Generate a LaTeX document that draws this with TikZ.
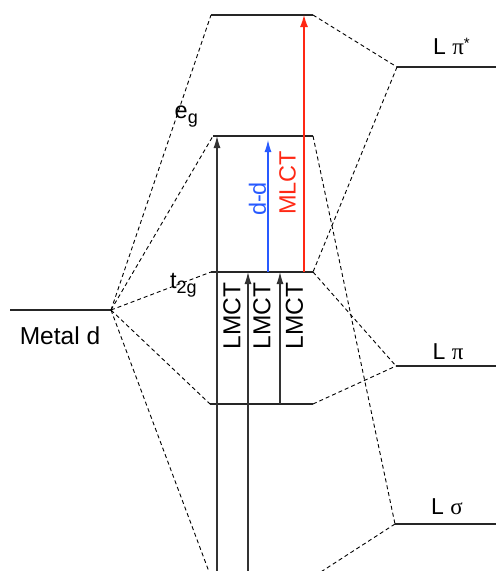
\documentclass[tikz,border=0pt]{standalone}
\usepackage{fontspec}
\setmainfont{Liberation Sans}
\newfontfamily\grk{Liberation Serif}
\usetikzlibrary{arrows.meta}
\definecolor{ddblue}{RGB}{40,90,255}
\definecolor{mlred}{RGB}{255,40,20}
\tikzset{
  level/.style={draw=black!85, line width=1.3pt},
  corr/.style={draw=black, line width=0.9pt, dash pattern=on 4pt off 3pt},
  trans/.style={draw=black!80, line width=1.1pt, -{Latex[length=12pt,width=7pt]}},
  lbl/.style={inner sep=0pt, font=\fontsize{24.5}{28}\selectfont},
  llbl/.style={inner sep=0pt, anchor=base, font=\fontsize{23}{27}\selectfont},
}
\begin{document}
\begin{tikzpicture}[x=1pt,y=-1pt]
\useasboundingbox (0,0) rectangle (496,571);
\clip (0,0) rectangle (496,571);
% level end points
\coordinate (md0) at (10,310);  \coordinate (md) at (111,310);
\coordinate (a1) at (211,15);   \coordinate (a2) at (313,15);
\coordinate (eg1) at (213,136); \coordinate (eg2) at (313,136);
\coordinate (t1) at (211,272);  \coordinate (t2) at (313,272);
\coordinate (p1) at (210,404);  \coordinate (p2) at (313,404);
\coordinate (s1) at (211,577);  \coordinate (s2) at (313,577);
\coordinate (lps1) at (397,67); \coordinate (lps2) at (496,67);
\coordinate (lp1) at (396,366); \coordinate (lp2) at (496,366);
\coordinate (ls1) at (395,524); \coordinate (ls2) at (496,524);
% levels
\draw[level] (md0) -- (md);
\draw[level] (a1) -- (a2);
\draw[level] (eg1) -- (eg2);
\draw[level] (t1) -- (t2);
\draw[level] (p1) -- (p2);
\draw[level] (s1) -- (s2);
\draw[level] (lps1) -- (lps2);
\draw[level] (lp1) -- (lp2);
\draw[level] (ls1) -- (ls2);
% correlation lines
\draw[corr] (md) -- (a1);
\draw[corr] (md) -- (eg1);
\draw[corr] (md) -- (t1);
\draw[corr] (md) -- (p1);
\draw[corr] (md) -- (s1);
\draw[corr] (a2) -- (lps1);
\draw[corr] (lps1) -- (t2);
\draw[corr] (eg2) -- (ls1);
\draw[corr] (t2) -- (lp1);
\draw[corr] (p2) -- (lp1);
\draw[corr] (ls1) -- (s2);
% transition end points
\coordinate (x1b) at (217,577); \coordinate (x1t) at (217,136);
\coordinate (x2b) at (248,577); \coordinate (x2t) at (248,272);
\coordinate (x3b) at (280,404); \coordinate (x3t) at (280,272);
\coordinate (ddb) at (268,272); \coordinate (ddt) at (268,140);
\coordinate (mlb) at (304,272); \coordinate (mlt) at (304,15);
\draw[trans] (x1b) -- (x1t);
\draw[trans] (x2b) -- (x2t);
\draw[trans] (x3b) -- (x3t);
\draw[line width=1.1pt, draw=ddblue, -{Latex[length=12pt,width=7pt]}] (ddb) -- (ddt);
\draw[line width=1.1pt, draw=mlred, -{Latex[length=12pt,width=8pt]}] (mlb) -- (mlt);
% labels
\node[lbl] (metal) at (60,335.5) {Metal d};
\node[lbl, rotate=90] (lmct1) at (232,316) {LMCT};
\node[lbl, rotate=90] (lmct2) at (262,316) {LMCT};
\node[lbl, rotate=90] (lmct3) at (294.5,316) {LMCT};
\node[lbl, rotate=90, text=ddblue, font=\fontsize{23.5}{27}\selectfont] (dd) at (257.5,199) {d-d};
\node[lbl, rotate=90, text=mlred, font=\fontsize{23.5}{27}\selectfont] (mlct) at (287.5,183) {MLCT};
\node[inner sep=0pt, anchor=base west, font=\fontsize{23.5}{27}\selectfont] (eg) at (174.5,118.3) {e\raisebox{-5pt}{\fontsize{18}{18}\selectfont g}};
\node[inner sep=0pt, anchor=base west, font=\fontsize{23.5}{27}\selectfont] (t2g) at (170,288.3) {t\raisebox{-5pt}{\fontsize{18}{18}\selectfont 2g}};
\node[llbl] (lpistar) at (451.5,54.3) {L {\grk π}\raisebox{6pt}{\fontsize{15}{15}\selectfont *}};
\node[llbl] (lpi) at (448,359.3) {L {\grk π}};
\node[llbl] (lsigma) at (447,514) {L {\grk σ}};
\end{tikzpicture}
\end{document}
